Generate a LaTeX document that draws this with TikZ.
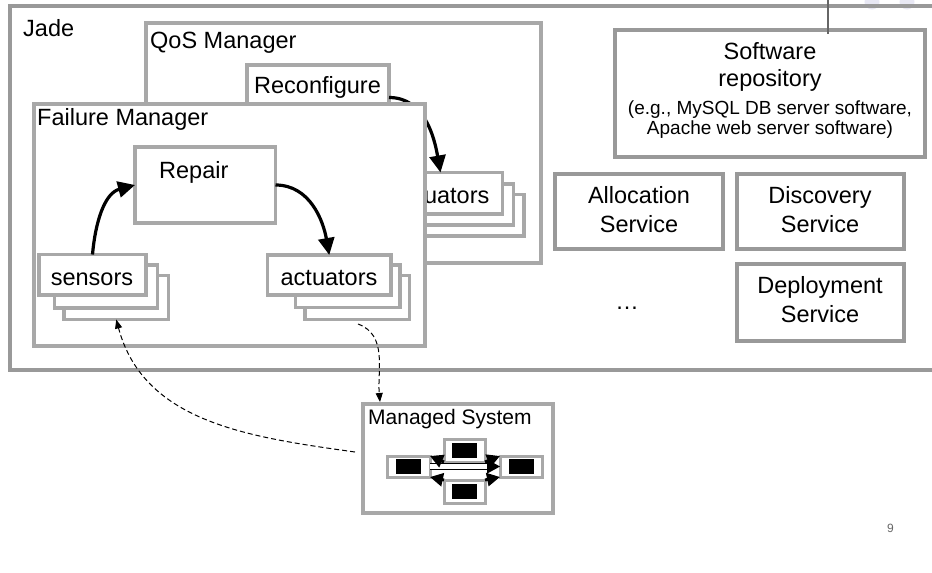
\documentclass[tikz,border=0pt]{standalone}
\usepackage{fontspec}
\setmainfont{Liberation Sans}
\usetikzlibrary{arrows.meta,fit}
\definecolor{boxgray}{HTML}{A8A8A8}
\definecolor{framegray}{HTML}{999999}
\definecolor{dotblue}{HTML}{E8E8F4}
\definecolor{markgray}{HTML}{666666}
\begin{document}
\begin{tikzpicture}[x=1pt,y=-1pt,
  frm/.style={draw=boxgray, line width=3.2pt, fill=white, inner sep=0pt, outer sep=0pt},
  svc/.style={draw=framegray, line width=4pt, fill=white, inner sep=0pt, outer sep=0pt},
  lbl/.style={inner sep=0pt, font=\fontsize{23.5}{28}\selectfont},
  small/.style={inner sep=0pt, font=\fontsize{19}{22}\selectfont},
  flow/.style={line width=3.2pt, -{Triangle[length=17pt,width=16pt]}},
  sig/.style={line width=1pt, dash pattern=on 5pt off 3pt, -{Triangle[length=9pt,width=7pt]}},
  chip/.style={draw=boxgray, line width=3pt, fill=white, inner sep=0pt, outer sep=0pt},
  core/.style={fill=black, inner sep=0pt, minimum width=25pt, minimum height=15pt},
  link/.style={line width=3pt, -{Triangle[length=13pt,width=13pt]}},
]
\useasboundingbox (0,0) rectangle (932,573);
\clip (0,0) rectangle (932,573);
\fill[white] (0,0) rectangle (932,573);

% faint slide decoration
\fill[dotblue] (872,2) circle (7.5pt);
\fill[dotblue] (907,2) circle (7.5pt);

% Jade platform
\node[draw=framegray, line width=4pt, inner sep=0pt, fit={(10,6) (937,369.5)}] (jade) {};
\node[lbl, anchor=base west] (jadet) at (23,36) {Jade};

% services on the right
\node[svc, fit={(615,30) (925,157)}] (repo) {};
\node[lbl, anchor=base] (repo1) at (770,59) {Software};
\node[lbl, anchor=base] (repo2) at (770,86) {repository};
\node[small, anchor=base] (repo3) at (770,114) {(e.g., MySQL DB server software,};
\node[small, anchor=base] (repo4) at (770,134) {Apache web server software)};
\draw[markgray, line width=2pt] (828,-2) -- (828,34);

\node[svc, fit={(555,174) (723,249)}] (alloc) {};
\node[lbl, anchor=base] (alloc1) at (639,203) {Allocation};
\node[lbl, anchor=base] (alloc2) at (639,232) {Service};
\node[svc, fit={(737,174) (903.5,249)}] (disc) {};
\node[lbl, anchor=base] (disc1) at (820,203) {Discovery};
\node[lbl, anchor=base] (disc2) at (820,232) {Service};
\node[svc, fit={(737,264) (903.5,341)}] (depl) {};
\node[lbl, anchor=base] (depl1) at (820,293) {Deployment};
\node[lbl, anchor=base] (depl2) at (820,322) {Service};
\node[lbl, anchor=base] (more) at (627,309) {\dots};

% QoS manager
\node[frm, fit={(146,23) (541,263)}] (qos) {};
\node[lbl, anchor=base west] (qost) at (150,48.5) {QoS Manager};
\node[frm, fit={(247,65) (389,130)}] (reconf) {};
\node[lbl, anchor=base west] (reconft) at (254,93) {Reconfigure};
\node[frm, fit={(419,194.5) (524,236)}] (qa3) {};
\node[frm, fit={(408.5,184) (513.5,225)}] (qa2) {};
\node[frm, fit={(378.5,172.5) (502.5,214)}] (qa1) {};
\node[lbl, anchor=base] (qa1t) at (441,203) {actuators};
\draw[flow] (reconf.east) to[out=0,in=100] (qa1.north);

% failure manager
\node[frm, fit={(34,104) (425,346)}] (fm) {};
\node[lbl, anchor=base west] (fmt) at (37,125) {Failure Manager};
\node[frm, fit={(135,147) (275.5,223)}] (repair) {};
\node[lbl, anchor=base west] (repairt) at (159,178) {Repair};

\node[frm, fit={(64,275.5) (168.5,319.5)}] (s3) {};
\node[frm, fit={(54.5,265) (157.5,308)}] (s2) {};
\node[frm, fit={(39,254.5) (146,295)}] (s1) {};
\node[lbl, anchor=base] (s1t) at (92,285) {sensors};

\node[frm, fit={(305,275.5) (409.5,319.5)}] (a3) {};
\node[frm, fit={(295.5,265) (400,307.5)}] (a2) {};
\node[frm, fit={(267.5,255) (391,295)}] (a1) {};
\node[lbl, anchor=base] (a1t) at (329,285) {actuators};

\draw[flow] (s1.north) to[out=85,in=195] (repair.west);
\draw[flow] (repair.east) to[out=0,in=100] (a1.north);

% managed system
\node[frm, fit={(363,404) (553,513)}] (ms) {};
\node[inner sep=0pt, anchor=base west, font=\fontsize{21}{25}\selectfont] (mst) at (368,424) {Managed System};
\node[chip, fit={(387,456) (430,477)}] (cl) {};
\node[chip, fit={(444,439) (485,462)}] (ct) {};
\node[chip, fit={(500,456) (542,477)}] (cr) {};
\node[chip, fit={(444,480) (485,503)}] (cb) {};
\node[core] (clc) at (cl.center) {};
\node[core] (ctc) at (ct.center) {};
\node[core] (crc) at (cr.center) {};
\node[core] (cbc) at (cb.center) {};
\draw[line width=1.2pt, double=white, double distance=4.5pt, -{Triangle[length=13pt,width=14pt]}] (cl.east) -- (cr.west);
\draw[link] (ct.south east) -- (cr.north west);
\draw[link] (cb.north east) -- (cr.south west);
\draw[link] (ct.south west) -- (cl.north east);
\draw[link] (cb.north west) -- (cl.south east);

% monitoring and control paths
\coordinate (obs) at (355,452);
\coordinate (act) at (358,324);
\coordinate (msin) at (380,402);
\draw[sig] (obs) to[out=172,in=-75] (s3.south);
\draw[sig] (act) to[out=-20,in=95] (msin);

% page number
\node[inner sep=0pt, font=\fontsize{12}{14}\selectfont, text=markgray] (pg) at (890.5,528.5) {9};
\end{tikzpicture}
\end{document}
